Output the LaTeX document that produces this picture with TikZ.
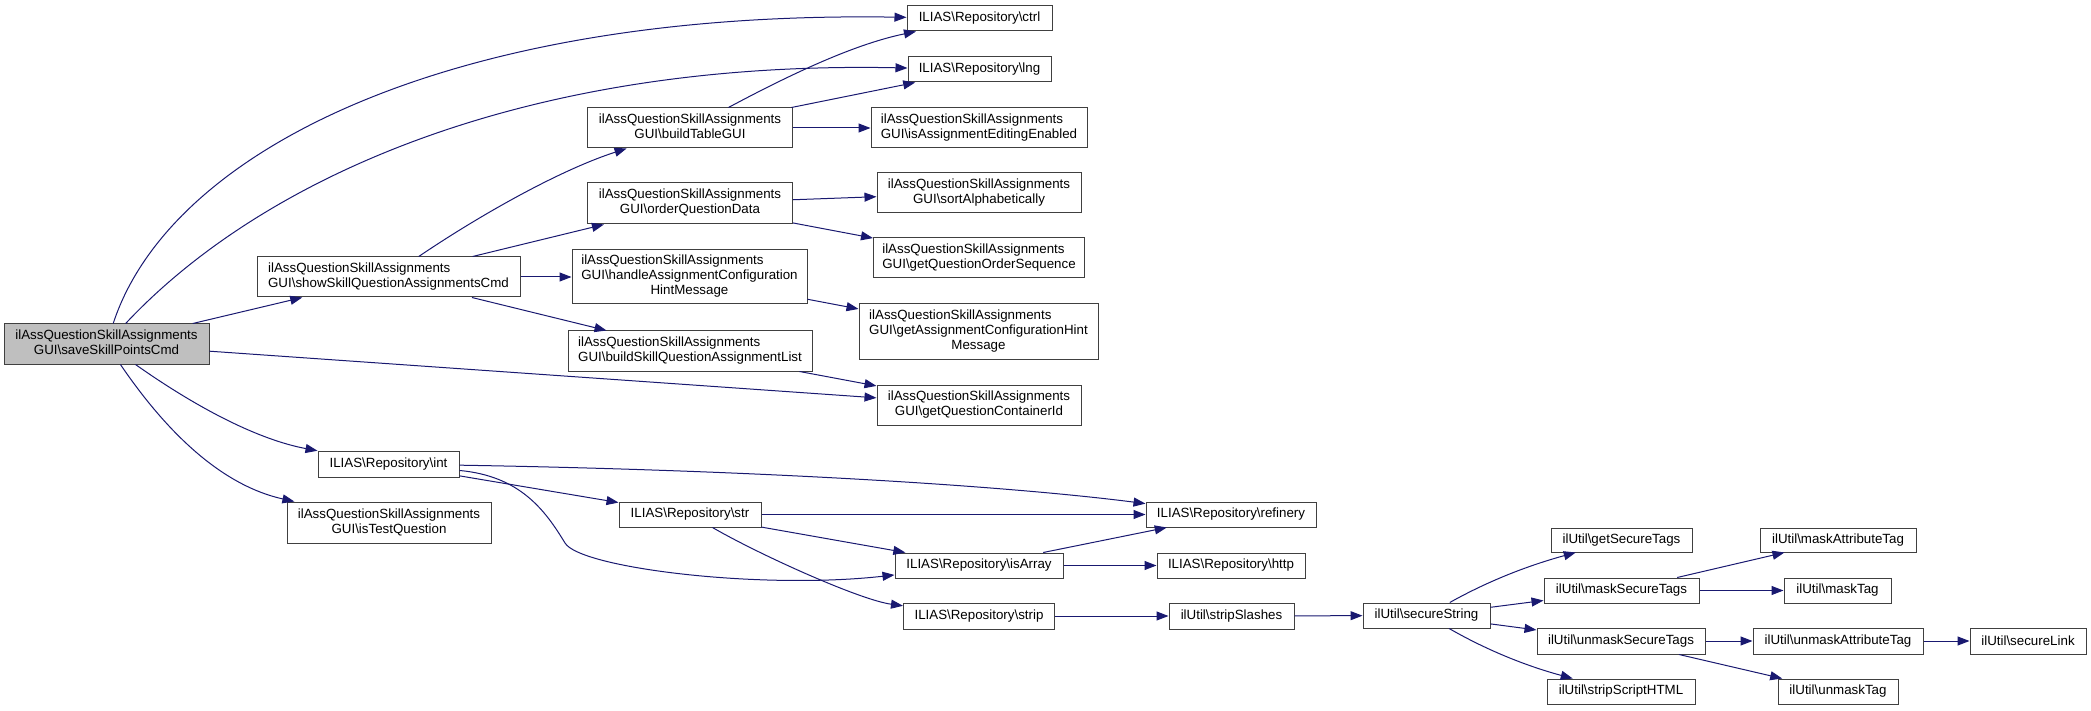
\documentclass[tikz,border=0pt]{standalone}
\usepackage{fontspec}
\setmainfont{Liberation Sans}
\usetikzlibrary{arrows.meta}
\definecolor{edgec}{HTML}{191970}
\definecolor{bord}{HTML}{404040}
\definecolor{rootfill}{HTML}{BFBFBF}
\newcommand{\bs}{\textbackslash{}}
\newcommand{\twol}[2]{\begin{tabular}{@{}l@{}}#1\\\multicolumn{1}{@{}c@{}}{#2}\end{tabular}}
\newcommand{\threel}[3]{\begin{tabular}{@{}l@{}}#1\\#2\\\multicolumn{1}{@{}c@{}}{#3}\end{tabular}}
\newcommand{\ilq}{ilAssQuestionSkillAssignments}
\begin{document}
\begin{tikzpicture}[x=1pt,y=-1pt,
  box/.style={draw=bord,line width=1pt,fill=white,inner sep=0pt,
    font=\fontsize{13.33}{15}\selectfont,align=center},
  rootbox/.style={box,fill=rootfill},
  edge/.style={draw=edgec,line width=1pt,-{Triangle[length=12pt,width=9pt]}},
]
\useasboundingbox (0,0) rectangle (2091,711);
% nodes
\node[rootbox,minimum width=205pt,minimum height=40pt] (save) at (106.5,344) {\twol{\ilq}{GUI\bs saveSkillPointsCmd}};
\node[box,minimum width=263pt,minimum height=40pt] (show) at (388.5,277) {\twol{\ilq}{GUI\bs showSkillQuestionAssignmentsCmd}};
\node[box,minimum width=141pt,minimum height=26pt] (int) at (388.5,464) {ILIAS\bs Repository\bs int};
\node[box,minimum width=204pt,minimum height=41pt] (istest) at (389,522.5) {\twol{\ilq}{GUI\bs isTestQuestion}};
\node[box,minimum width=205pt,minimum height=40pt] (btg) at (690,128) {\twol{\ilq}{GUI\bs buildTableGUI}};
\node[box,minimum width=205pt,minimum height=41pt] (oqd) at (690,203.5) {\twol{\ilq}{GUI\bs orderQuestionData}};
\node[box,minimum width=235pt,minimum height=54pt] (hacm) at (689.5,277) {\threel{\ilq}{GUI\bs handleAssignmentConfiguration}{HintMessage}};
\node[box,minimum width=244pt,minimum height=40pt] (bsqal) at (690,351) {\twol{\ilq}{GUI\bs buildSkillQuestionAssignmentList}};
\node[box,minimum width=142pt,minimum height=25pt] (str) at (690,514.5) {ILIAS\bs Repository\bs str};
\node[box,minimum width=145pt,minimum height=25pt] (ctrl) at (979.5,18.5) {ILIAS\bs Repository\bs ctrl};
\node[box,minimum width=143pt,minimum height=25pt] (lng) at (979.5,69.5) {ILIAS\bs Repository\bs lng};
\node[box,minimum width=216pt,minimum height=40pt] (isaee) at (979,128) {\twol{\ilq}{GUI\bs isAssignmentEditingEnabled}};
\node[box,minimum width=204pt,minimum height=40pt] (sorta) at (979,193) {\twol{\ilq}{GUI\bs sortAlphabetically}};
\node[box,minimum width=211pt,minimum height=40pt] (gqos) at (979,258) {\twol{\ilq}{GUI\bs getQuestionOrderSequence}};
\node[box,minimum width=239pt,minimum height=55pt] (gachm) at (978.5,331.5) {\threel{\ilq}{GUI\bs getAssignmentConfigurationHint}{Message}};
\node[box,minimum width=204pt,minimum height=40pt] (gqci) at (979,405) {\twol{\ilq}{GUI\bs getQuestionContainerId}};
\node[box,minimum width=168pt,minimum height=25pt] (isarr) at (979,565.5) {ILIAS\bs Repository\bs isArray};
\node[box,minimum width=151pt,minimum height=26pt] (strip) at (979,616) {ILIAS\bs Repository\bs strip};
\node[box,minimum width=170pt,minimum height=25pt] (refin) at (1231,514.5) {ILIAS\bs Repository\bs refinery};
\node[box,minimum width=148pt,minimum height=25pt] (http) at (1231,565.5) {ILIAS\bs Repository\bs http};
\node[box,minimum width=125pt,minimum height=26pt] (sslash) at (1231.5,616) {ilUtil\bs stripSlashes};
\node[box,minimum width=127pt,minimum height=25pt] (sstr) at (1426.5,615.5) {ilUtil\bs secureString};
\node[box,minimum width=141pt,minimum height=24pt] (gst) at (1621.5,540) {ilUtil\bs getSecureTags};
\node[box,minimum width=155pt,minimum height=25pt] (mst) at (1621.5,590.5) {ilUtil\bs maskSecureTags};
\node[box,minimum width=168pt,minimum height=26pt] (ust) at (1621,641) {ilUtil\bs unmaskSecureTags};
\node[box,minimum width=148pt,minimum height=25pt] (sshtml) at (1621,691.5) {ilUtil\bs stripScriptHTML};
\node[box,minimum width=156pt,minimum height=24pt] (mat) at (1838,540) {ilUtil\bs maskAttributeTag};
\node[box,minimum width=107pt,minimum height=25pt] (mtag) at (1837.5,590.5) {ilUtil\bs maskTag};
\node[box,minimum width=170pt,minimum height=26pt] (uat) at (1838,641) {ilUtil\bs unmaskAttributeTag};
\node[box,minimum width=120pt,minimum height=25pt] (utag) at (1838,691.5) {ilUtil\bs unmaskTag};
\node[box,minimum width=116pt,minimum height=26pt] (slink) at (2028,641) {ilUtil\bs secureLink};
% edges from save
\draw[edge] (save) .. controls (170,150) and (450,10) .. (ctrl);
\draw[edge] (save) .. controls (260,180) and (520,60) .. (lng);
\draw[edge] (save) -- (show);
\draw[edge] (save) -- (gqci);
\draw[edge] (save) .. controls (200,410) and (260,440) .. (int);
\draw[edge] (save) .. controls (165,430) and (220,485) .. (istest);
% edges from show
\draw[edge] (show) .. controls (480,215) and (560,170) .. (btg);
\draw[edge] (show) -- (oqd);
\draw[edge] (show) -- (hacm);
\draw[edge] (show) -- (bsqal);
% column 2
\draw[edge] (btg) .. controls (780,80) and (850,45) .. (ctrl);
\draw[edge] (btg) -- (lng);
\draw[edge] (btg) -- (isaee);
\draw[edge] (oqd) -- (sorta);
\draw[edge] (oqd) -- (gqos);
\draw[edge] (hacm) -- (gachm);
\draw[edge] (bsqal) -- (gqci);
% int
\draw[edge] (int) .. controls (750,470) and (1000,485) .. (refin);
\draw[edge] (int) -- (str);
\draw[edge] (int) .. controls (520,476) and (545,510) .. (565,543) .. controls (580,568) and (760,590) .. (isarr);
% str
\draw[edge] (str) -- (refin);
\draw[edge] (str) -- (isarr);
\draw[edge] (str) .. controls (760,555) and (860,600) .. (strip);
\draw[edge] (isarr) -- (refin);
\draw[edge] (isarr) -- (http);
\draw[edge] (strip) -- (sslash);
\draw[edge] (sslash) -- (sstr);
% secureString
\draw[edge] (sstr) .. controls (1490,580) and (1530,565) .. (gst);
\draw[edge] (sstr) -- (mst);
\draw[edge] (sstr) -- (ust);
\draw[edge] (sstr) .. controls (1490,652) and (1530,667) .. (sshtml);
\draw[edge] (mst) -- (mat);
\draw[edge] (mst) -- (mtag);
\draw[edge] (ust) -- (uat);
\draw[edge] (ust) -- (utag);
\draw[edge] (uat) -- (slink);
\end{tikzpicture}
\end{document}
